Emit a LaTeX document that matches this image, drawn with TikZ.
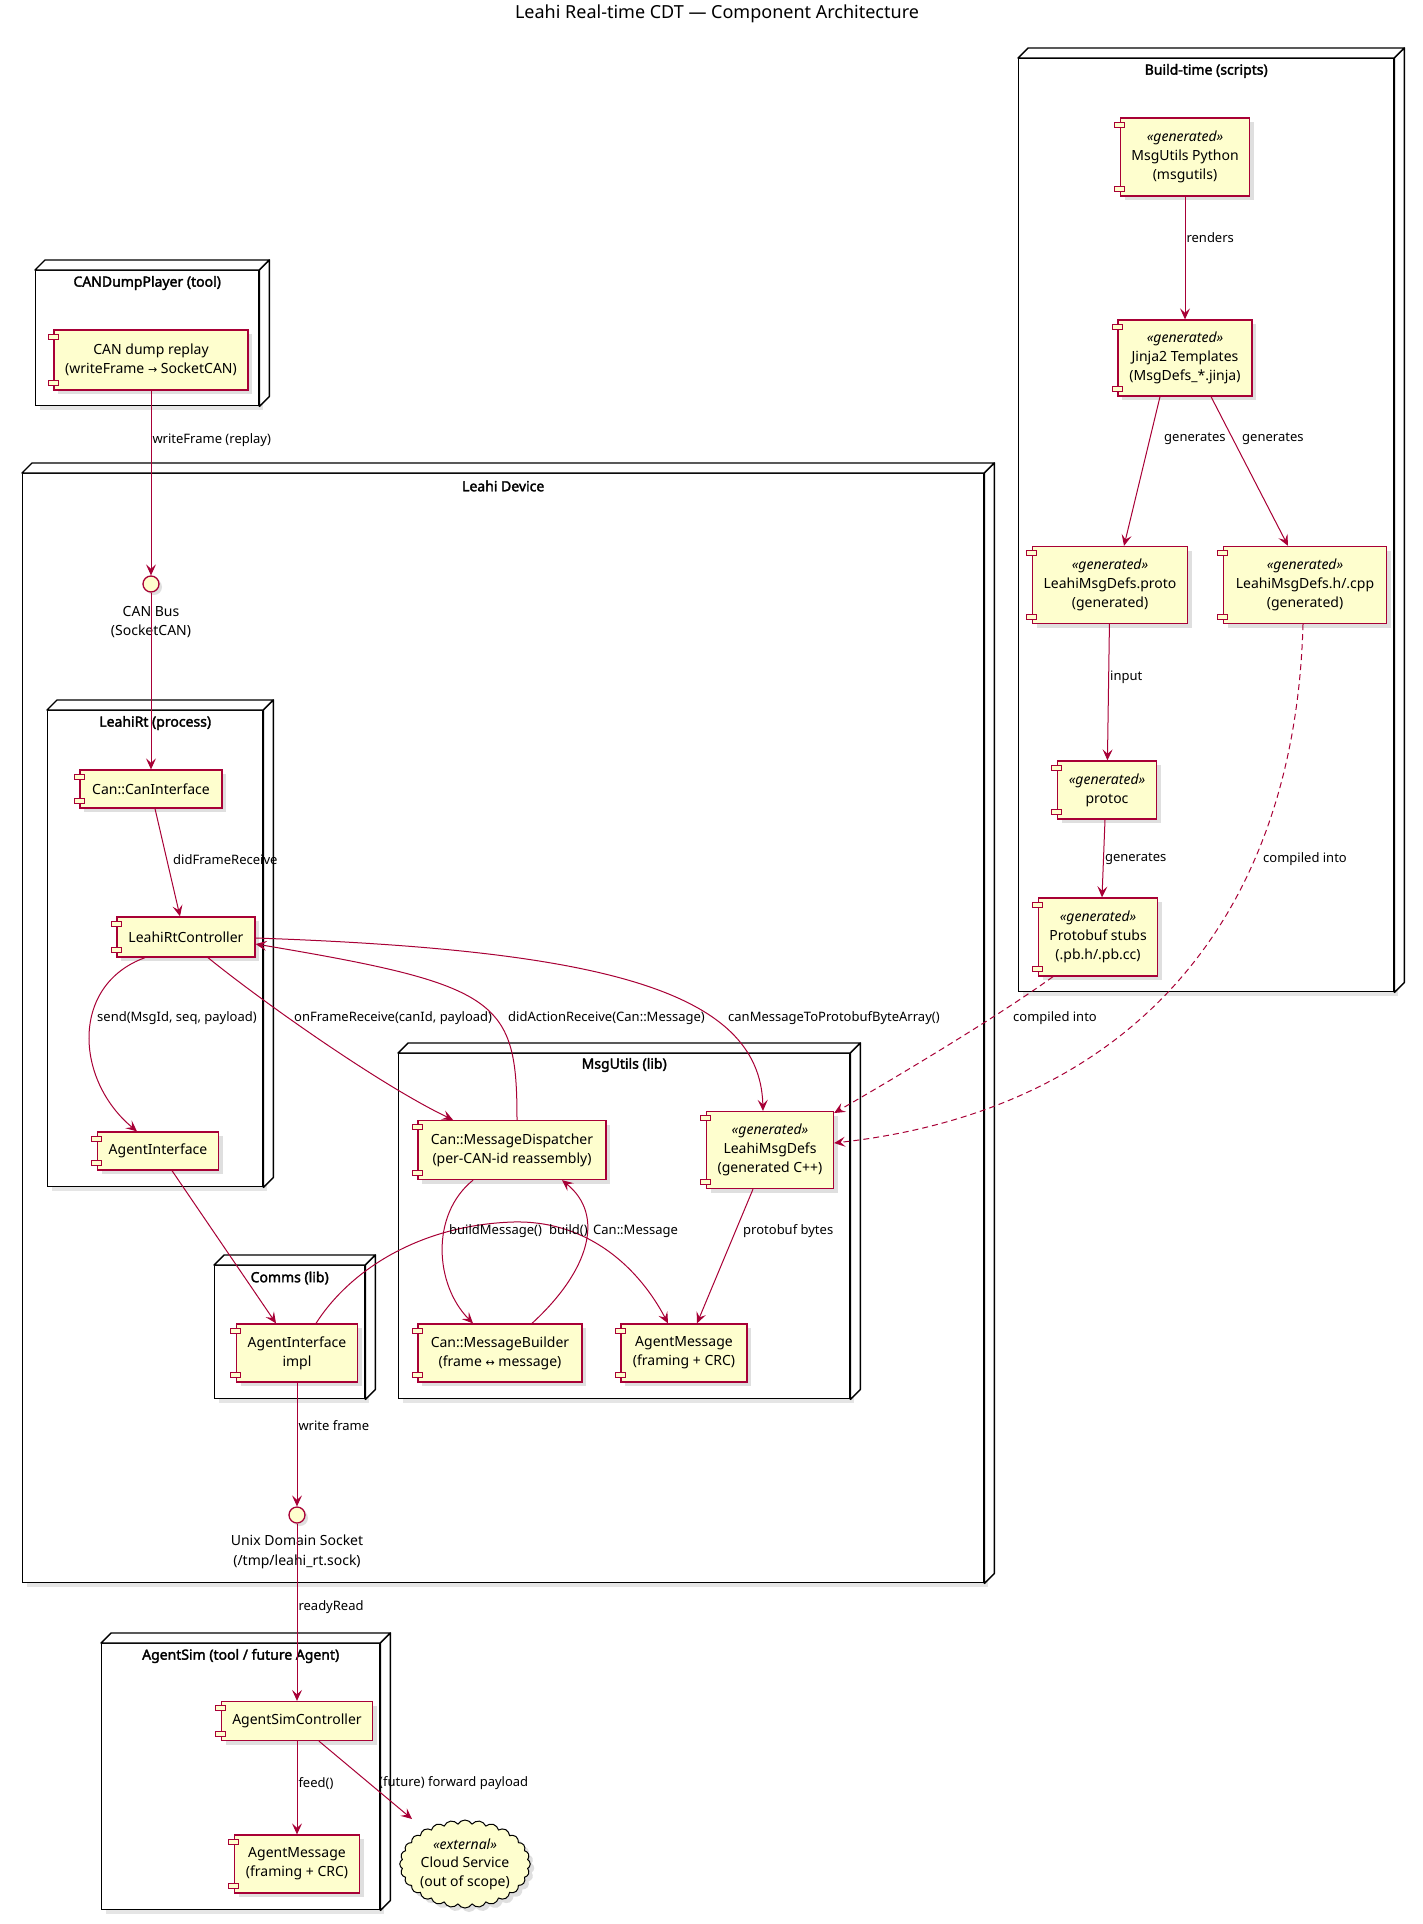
\documentclass[tikz,border=0pt]{standalone}
\usepackage{fontspec}
\setmainfont{Noto Sans}[AutoFakeBold=2.2]
\newfontfamily\symfont{DejaVu Sans}
\usetikzlibrary{arrows.meta,shadows,shapes.symbols}
\definecolor{uml}{HTML}{A80036}
\definecolor{compfill}{HTML}{FEFECE}
\newcommand\genmark{\textit{«generated»}}

\begin{document}
\begin{tikzpicture}[x=1pt, y=-1pt,
    comp/.style={draw=uml, fill=compfill, line width=1.3pt, align=center, inner sep=2pt,
      font=\fontsize{14}{19}\selectfont,
      drop shadow={shadow xshift=4pt, shadow yshift=-4pt, opacity=0.25}},
    port/.style={draw=uml, fill=compfill, line width=1pt},
    box/.style={draw, fill=white, line width=1.4pt, anchor=north west,
      drop shadow={shadow xshift=4pt, shadow yshift=-4pt, opacity=0.2}},
    face/.style={draw, fill=white, line width=1.4pt, line join=round},
    ttl/.style={font=\fontsize{14}{17}\selectfont\bfseries},
    iface/.style={circle, draw=uml, fill=compfill, line width=1.3pt, minimum size=16pt, inner sep=0pt,
      drop shadow={shadow xshift=3pt, shadow yshift=-3pt, opacity=0.25}},
    ilbl/.style={align=center, font=\fontsize{14}{19.5}\selectfont},
    cloudy/.style={cloud, cloud puffs=28, cloud puff arc=120, cloud ignores aspect, draw=black,
      fill=compfill, line width=1pt, minimum width=126pt, minimum height=88pt, inner sep=0pt,
      align=center, font=\fontsize{14}{18.5}\selectfont,
      drop shadow={shadow xshift=4pt, shadow yshift=-4pt, opacity=0.25}},
    lbl/.style={font=\fontsize{13}{16}\selectfont, inner sep=1pt, anchor=west},
    link/.style={draw=uml, line width=1pt, -{Stealth[length=11pt, width=10pt, inset=4.5pt]}},
    dep/.style={link, dash pattern=on 6pt off 4pt},
  ]
    \fill[white] (0,0) rectangle (1423,1924);
    \useasboundingbox (0,0) rectangle (1423,1924);

    \node at (717,14) (title) [font=\fontsize{18}{22}\selectfont] {Leahi Real-time CDT — Component Architecture};

    % containers
    \node at (1018,58) (build) [box, minimum width=375pt, minimum height=933pt] {};
    \node at (35,270) (cdp) [box, minimum width=223pt, minimum height=135pt] {};
    \node at (22,473) (dev) [box, minimum width=961pt, minimum height=1109pt] {};
    \node at (47,710) (rt) [box, minimum width=215pt, minimum height=476pt] {};
    \node at (398,1053) (msgu) [box, minimum width=451pt, minimum height=345pt] {};
    \node at (214,1265) (comms) [box, minimum width=150pt, minimum height=133pt] {};
    \node at (101,1643) (sim) [box, minimum width=278pt, minimum height=266pt] {};
    \foreach \b in {build,cdp,dev,rt,msgu,comms,sim}{
      \draw[face] (\b.north west) -- ++(10pt,10pt) -- ([shift={(10pt,10pt)}]\b.north east) -- (\b.north east) -- cycle;
      \draw[face] (\b.north east) -- ++(10pt,10pt) -- ([shift={(10pt,10pt)}]\b.south east) -- (\b.south east) -- cycle;
    }
    \node at ([yshift=-13pt]build.north) (buildt) [ttl] {Build-time (scripts)};
    \node at ([yshift=-13pt]cdp.north) (cdpt) [ttl] {CANDumpPlayer (tool)};
    \node at ([yshift=-13pt]dev.north) (devt) [ttl] {Leahi Device};
    \node at ([yshift=-13pt]rt.north) (rtt) [ttl] {LeahiRt (process)};
    \node at ([yshift=-12pt]msgu.north) (msgut) [ttl] {MsgUtils (lib)};
    \node at ([yshift=-13pt]comms.north) (commst) [ttl] {Comms (lib)};
    \node at ([yshift=-13pt]sim.north) (simt) [ttl] {AgentSim (tool / future Agent)};

    % components
    \node at (151,360) (replay) [comp, minimum width=194pt, minimum height=60pt] {CAN dump replay\\(writeFrame {\symfont\fontsize{11}{19}\selectfont →} SocketCAN)};
    \node at (151,584) (canbus) [iface] {};
    \node at (151,622) (canbuslbl) [ilbl] {CAN Bus\\(SocketCAN)};
    \node at (151,789) (canif) [comp, minimum width=142pt, minimum height=38pt] {Can::CanInterface};
    \node at (186,937) (ctrl) [comp, minimum width=138pt, minimum height=40pt] {LeahiRtController};
    \node at (158,1151) (agentif) [comp, minimum width=121pt, minimum height=38pt] {AgentInterface};
    \node at (512,1150) (disp) [comp, minimum width=188pt, minimum height=59pt] {Can::MessageDispatcher\\(per-CAN-id reassembly)};
    \node at (770,1150) (defs) [comp, minimum width=127pt, minimum height=77pt] {\genmark\\LeahiMsgDefs\\(generated C++)};
    \node at (500,1353) (builder) [comp, minimum width=164pt, minimum height=58pt] {Can::MessageBuilder\\(frame {\symfont\fontsize{11}{19}\selectfont ↔} message)};
    \node at (684,1353) (amsg) [comp, minimum width=126pt, minimum height=58pt] {AgentMessage\\(framing + CRC)};
    \node at (297,1353) (impl) [comp, minimum width=121pt, minimum height=58pt] {AgentInterface\\impl};
    \node at (297,1515) (uds) [iface] {};
    \node at (297,1552) (udslbl) [ilbl] {Unix Domain Socket\\(/tmp/leahi\_rt.sock)};
    \node at (297,1721) (simctl) [comp, minimum width=151pt, minimum height=39pt] {AgentSimController};
    \node at (297,1864) (simmsg) [comp, minimum width=125pt, minimum height=58pt] {AgentMessage\\(framing + CRC)};
    \node at (465,1864) (cloudsvc) [cloudy] {\textit{«external»}\\Cloud Service\\(out of scope)};
    \node at (1185,157) (py) [comp, minimum width=129pt, minimum height=78pt] {\genmark\\MsgUtils Python\\(msgutils)};
    \node at (1185,358) (jinja) [comp, minimum width=134pt, minimum height=76pt] {\genmark\\Jinja2 Templates\\(MsgDefs\_*.jinja)};
    \node at (1110,585) (proto) [comp, minimum width=155pt, minimum height=77pt] {\genmark\\LeahiMsgDefs.proto\\(generated)};
    \node at (1305,585) (hcpp) [comp, minimum width=163pt, minimum height=77pt] {\genmark\\LeahiMsgDefs.h/.cpp\\(generated)};
    \node at (1107,790) (protoc) [comp, minimum width=99pt, minimum height=58pt] {\genmark\\protoc};
    \node at (1098,937) (stubs) [comp, minimum width=119pt, minimum height=78pt] {\genmark\\Protobuf stubs\\(.pb.h/.pb.cc)};
    \foreach \c in {replay,canif,ctrl,agentif,disp,defs,builder,amsg,impl,simctl,simmsg,py,jinja,proto,hcpp,protoc,stubs}{
      \draw[port] ([xshift=-5pt,yshift=-5pt]\c.north west) rectangle ++(10pt,-5pt);
      \draw[port] ([xshift=-5pt,yshift=5pt]\c.south west) rectangle ++(10pt,5pt);
    }

    % connectors
    \draw[link] (replay) -- node[lbl, pos=.27] (lrep) {writeFrame (replay)} (canbus);
    \draw[link] (canbus) -- (canif);
    \draw[link] ([xshift=4pt]canif.south) -- ([xshift=-6pt]ctrl.north);
    \node at (172,860) (ldfr) [lbl] {didFrameReceive};
    \draw[link] ([xshift=-41pt]ctrl.south) .. controls (70,985) and (75,1080) .. ([xshift=-21pt]agentif.north);
    \node at (96,1018) (lsend) [lbl] {send(MsgId, seq, payload)};
    \draw[link] ([xshift=22pt]ctrl.south) .. controls (260,1000) and (380,1085) .. ([xshift=-59pt]disp.north);
    \node at (293,1018) (lofr) [lbl] {onFrameReceive(canId, payload)};
    \draw[link] ([xshift=5pt]disp.north) .. controls (517,1000) and (500,985) .. ([yshift=-7pt]ctrl.east);
    \node at (507,1018) (ldar) [lbl] {didActionReceive(Can::Message)};
    \draw[link] ([yshift=-1pt]ctrl.east) .. controls (600,950) and (760,990) .. ([xshift=-7pt]defs.north);
    \node at (727,1018) (lcm) [lbl] {canMessageToProtobufByteArray()};
    \draw[link] ([xshift=14pt]agentif.south) -- ([xshift=-21pt]impl.north);
    \draw[link] ([xshift=19pt]impl.north) .. controls (350,1270) and (420,1225) .. (513,1222)
      .. controls (590,1220) and (640,1270) .. ([xshift=-16pt]amsg.north);
    \draw[link] ([xshift=-39pt]disp.south) .. controls (430,1215) and (435,1285) .. ([xshift=-27pt]builder.north);
    \draw[link] ([xshift=32pt]builder.north) .. controls (590,1270) and (605,1215) .. ([xshift=50pt]disp.south);
    \node at (448,1231) (lbm) [lbl] {buildMessage()};
    \node at (548,1231) (lbuild) [lbl] {build()};
    \node at (592,1231) (lcanmsg) [lbl] {Can::Message};
    \draw[link] ([xshift=-17pt]defs.south) -- ([xshift=13pt]amsg.north);
    \node at (742,1231) (lpb) [lbl] {protobuf bytes};
    \draw[link] (impl) -- node[lbl, pos=.35] (lwf) {write frame} (uds);
    \draw[link] (uds) -- node[lbl, pos=.47] (lrr) {readyRead} (simctl);
    \draw[link] (simctl) -- node[lbl, pos=.45] (lfeed) {feed()} (simmsg);
    \draw[link] ([xshift=22pt]simctl.south) -- ([shift={(-53pt,45pt)}]cloudsvc.center);
    \node at (378,1783) (lfwd) [lbl] {(future) forward payload};

    \draw[link] (py) -- node[lbl, pos=.33] (lrend) {renders} (jinja);
    \draw[link] ([xshift=-25pt]jinja.south) -- ([xshift=14pt]proto.north);
    \node at (1163,439) (lgen1) [lbl] {generates};
    \draw[link] ([xshift=26pt]jinja.south) -- ([xshift=-17pt]hcpp.north);
    \node at (1241,439) (lgen2) [lbl] {generates};
    \draw[link] (proto) -- node[lbl, pos=.39] (linput) {input} (protoc);
    \draw[link] ([xshift=-2pt]protoc.south) -- node[lbl, pos=.5] (lgen3) {generates} ([xshift=4pt]stubs.north);
    \draw[dep] ([xshift=-45pt]stubs.south) .. controls (1000,1015) and (900,1075) .. ([yshift=37pt]defs.east);
    \node at (1012,1018) (lci1) [lbl] {compiled into};
    \draw[dep] ([xshift=-2pt]hcpp.south) .. controls (1295,920) and (1130,1110) .. ([yshift=7pt]defs.east);
    \node at (1262,859) (lci2) [lbl] {compiled into};
\end{tikzpicture}
\end{document}
